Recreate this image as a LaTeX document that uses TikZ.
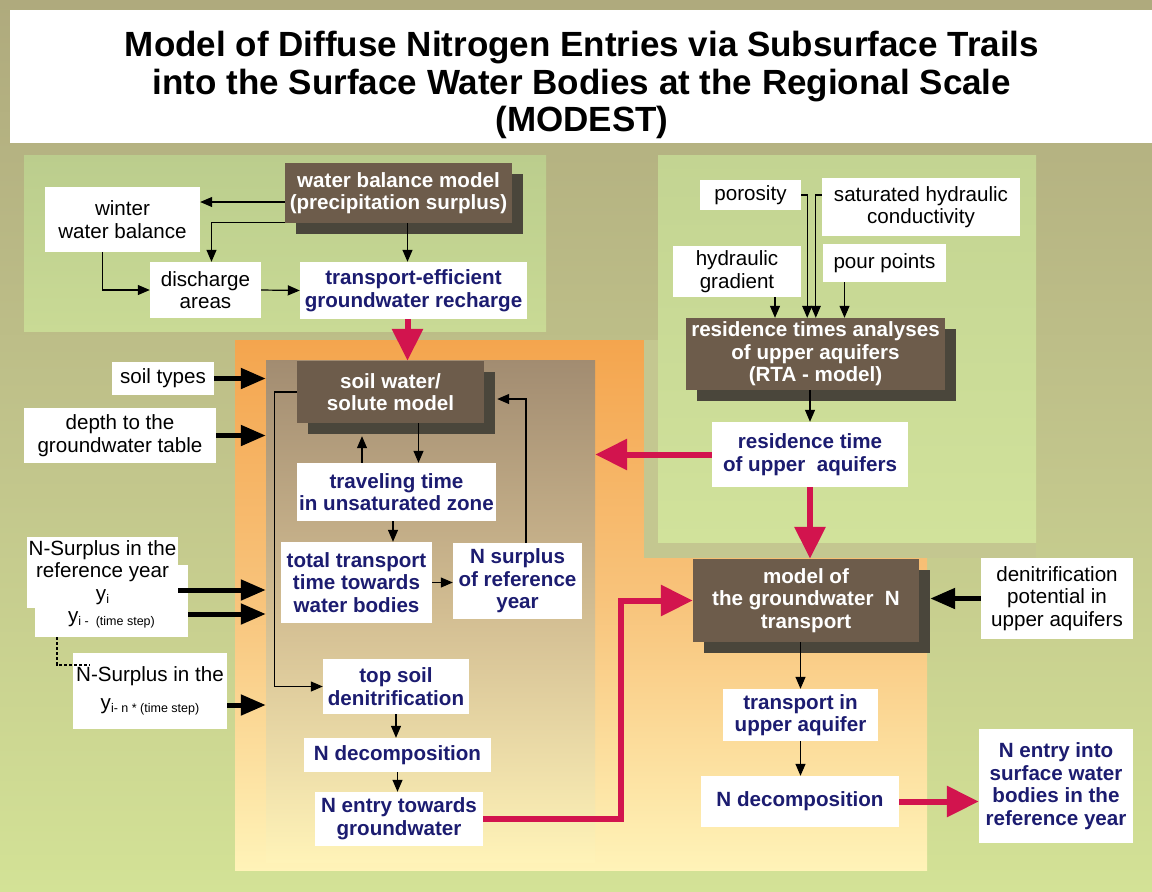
\documentclass[tikz,border=0pt]{standalone}
\usepackage{fontspec}
\setmainfont{Liberation Sans}
\usetikzlibrary{positioning, calc, arrows.meta, shadows}
\definecolor{Olive}{HTML}{AFAA7D}
\definecolor{OliveMid}{HTML}{C1C48B}
\definecolor{Meadow}{HTML}{D3E296}
\definecolor{LeafTop}{HTML}{BBCD8D}
\definecolor{LeafLow}{HTML}{C9DA95}
\definecolor{PaleTop}{HTML}{C3D492}
\definecolor{PaleLow}{HTML}{D1E29B}
\definecolor{Rim}{HTML}{C4C790}
\definecolor{Amber}{HTML}{F4A54E}
\definecolor{AmberMid}{HTML}{F8C47C}
\definecolor{Cream}{HTML}{FFF3B8}
\definecolor{Tan}{HTML}{A28C71}
\definecolor{TanMid}{HTML}{D2BD92}
\definecolor{Umber}{HTML}{6D5C4B}
\definecolor{Slate}{HTML}{4A463B}
\definecolor{Navy}{HTML}{1C1C70}
\definecolor{Crimson}{HTML}{D2144E}
\newcommand{\lbl}{\fontsize{20.6}{22.6}\selectfont}
\newcommand{\lblb}{\bfseries\fontsize{20.6}{22.6}\selectfont}
\newcommand{\lowidx}[1]{\raisebox{-3pt}{\fontsize{12.5}{12.5}\selectfont #1}}
\tikzset{
    wh/.style 2 args={minimum width=#1pt, minimum height=#2pt},
    inbox/.style={rectangle, fill=white, text=black, align=center, inner sep=0pt, font=\lbl},
    outbox/.style={rectangle, fill=white, text=Navy, align=center, inner sep=0pt, font=\lblb},
    modelbox/.style={rectangle, fill=Umber, text=white, align=center, inner sep=0pt, font=\lblb,
        drop shadow={shadow xshift=11pt, shadow yshift=-11pt, fill=Slate, opacity=1}},
    thinarrow/.style={-{Triangle[length=12pt, width=10pt]}, line width=1.2pt, color=black},
    fatarrow/.style={-{Triangle[length=25pt, width=20pt]}, line width=5pt, color=black},
    redarrow/.style={-{Triangle[length=32pt, width=30pt]}, line width=6pt, color=Crimson},
    lagline/.style={densely dashed, line width=2.5pt},
}
\begin{document}
\begin{tikzpicture}[x=1pt, y=-1pt]
    \useasboundingbox (0,0) rectangle (1152,892);
    % backdrop
    \shade[top color=Olive, bottom color=Meadow, middle color=OliveMid] (0,0) rectangle (1152,892);

    % title
    \fill[white] (10,10) rectangle (1152,143);
    \node[font=\bfseries\fontsize{35}{37.5}\selectfont, align=center] (heading) at (582,85)
        {Model of Diffuse Nitrogen Entries via Subsurface Trails\\into the Surface Water Bodies at the Regional Scale\\(MODEST)};

    % coloured panels
    \shade[top color=LeafTop, bottom color=LeafLow] (24,155) rectangle (546,331);
    \shade[top color=Amber, bottom color=Cream, middle color=AmberMid] (235,340) rectangle (927,870);
    \node[top color=Tan, bottom color=Cream, middle color=TanMid, wh={329}{502}, inner sep=0pt] (soilzone) at (430.5,611) {};
    \fill[Rim] (644,340) rectangle (1036,558);
    \shade[top color=PaleTop, bottom color=PaleLow] (658,155) rectangle (1036,542);

    % recharge block
    \node[modelbox, wh={227}{60}] (wbm) at (398.5,193) {water balance model\\(precipitation surplus)};
    \node[inbox, wh={155}{65}] (winter) at (122.5,219.5) {winter\\water balance};
    \node[inbox, wh={111}{56}] (dis) at (205.5,290) {discharge\\areas};
    \node[outbox, wh={227}{57}] (tegr) at (413.5,290.5) {transport-efficient\\groundwater recharge};

    % residence time block
    \node[inbox, wh={101}{30}] (poros) at (750.5,195) {porosity};
    \node[inbox, wh={198}{58}] (satcond) at (921,207) {saturated hydraulic\\conductivity};
    \node[inbox, wh={128}{51}] (hgrad) at (737,271.5) {hydraulic\\gradient};
    \node[inbox, wh={123}{38}] (pour) at (884.5,263) {pour points};
    \node[modelbox, wh={259}{72}] (rta) at (815.5,354) {residence times analyses\\of upper aquifers\\(RTA - model)};
    \node[outbox, wh={196}{65}] (rtime) at (810,454.5) {residence time\\of upper~~aquifers};

    % inputs on the left
    \node[inbox, wh={102}{33}] (soiltypes) at (163,378.5) {soil types};
    \node[inbox, wh={192}{55}] (depth) at (120,435.5) {depth to the\\groundwater table};
    \node[inbox, wh={153}{72}] (nsurB) at (111.5,601) {};
    \node[inbox, wh={151}{71}] (nsurA) at (102.5,572.5) {N-Surplus in the\\reference year\\y\lowidx{i}};
    \node[inbox] (nsurBtext) at (111.5,620) {y\lowidx{i - ~(time step)}};
    \node[inbox, wh={154}{76}] (nsurC) at (150,691) {N-Surplus in the\\[5pt]y\lowidx{i- n * (time step)}};

    % unsaturated zone
    \node[modelbox, wh={187}{62}] (soil) at (390.5,392) {soil water/\\solute model};
    \node[outbox, wh={199}{58}] (travel) at (396.5,492) {traveling time\\in unsaturated zone};
    \node[outbox, wh={151}{81}] (total) at (356.5,582.5) {total transport\\time towards\\water bodies};
    \node[outbox, wh={129}{76}] (nsurref) at (517.5,581) {N surplus\\of reference\\year};
    \node[outbox, wh={146}{55}] (topsoil) at (396,686.5) {top soil\\denitrification};
    \node[outbox, wh={187}{34}] (ndec1) at (397.5,755) {N decomposition};
    \node[outbox, wh={168}{54}] (nentry) at (399,819) {N entry towards\\groundwater};

    % saturated zone
    \node[modelbox, wh={226}{83}] (gwm) at (806,600.5) {model of\\the groundwater~~N\\transport};
    \node[inbox, wh={152}{81}] (denit) at (1057,598.5) {denitrification\\potential in\\upper aquifers};
    \node[outbox, wh={155}{52}] (tua) at (800.5,715) {transport in\\upper aquifer};
    \node[outbox, wh={198}{51}] (ndec2) at (800,801.5) {N decomposition};
    \node[outbox, wh={154}{114}] (nsurf) at (1056,786) {N entry into\\surface water\\bodies in the\\reference year};

    % connectors: recharge
    \draw[thinarrow] ($(wbm.west)+(0,9)$) -- ($(wbm.west -| winter.east)+(0,9)$);
    \draw[thinarrow] ($(wbm.south west)+(0,-1)$) -| ($(dis.north)+(6,0)$);
    \draw[thinarrow] ($(winter.south)+(-20,0)$) |- (dis.west);
    \draw[thinarrow] (dis.east) -- (tegr.west);
    \draw[thinarrow] ($(tegr.north |- wbm.south)+(-6,0)$) -- ($(tegr.north)+(-6,0)$);
    \draw[redarrow] ($(tegr.south)+(-6,0)$) -- ($(tegr.south |- soil.north)+(-6,0)$);

    % connectors: residence time
    \draw[thinarrow] (poros.east) -| ($(poros.east |- rta.north)+(6,0)$);
    \draw[thinarrow] ($(satcond.west)+(0,-12)$) -| ($(satcond.west |- rta.north)+(-6,0)$);
    \draw[thinarrow] ($(hgrad.south)+(38,0)$) -- ($(hgrad.south |- rta.north)+(38,0)$);
    \draw[thinarrow] ($(pour.south)+(-40,0)$) -- ($(pour.south |- rta.north)+(-40,0)$);
    \draw[thinarrow] (rtime.north |- rta.south) -- (rtime.north);
    \draw[redarrow] (rtime.west) -- (rtime.west -| soilzone.east);
    \draw[redarrow] (rtime.south) -- (rtime.south |- gwm.north);

    % connectors: inputs
    \draw[fatarrow] (soiltypes.east) -- (soiltypes.east -| soilzone.west);
    \draw[fatarrow] (depth.east) -- (depth.east -| soilzone.west);
    \draw[fatarrow] ($(nsurA.east)+(0,17.5)$) -- ($(nsurA.east -| soilzone.west)+(0,17.5)$);
    \draw[fatarrow] ($(nsurB.east)+(0,13)$) -- ($(nsurB.east -| soilzone.west)+(0,13)$);
    \draw[fatarrow] ($(nsurC.east)+(0,14)$) -- ($(nsurC.east -| soilzone.west)+(0,14)$);
    \draw[lagline] ($(nsurB.south west)+(22,0)$) |- ($(nsurC.north west)+(17,12)$);

    % connectors: unsaturated zone
    \draw[thinarrow] ($(travel.north |- soil.south)+(22,0)$) -- ($(travel.north)+(22,0)$);
    \draw[thinarrow] ($(travel.north)+(-34.5,0)$) -- ($(travel.north |- soil.south)+(-34.5,13)$);
    \draw[thinarrow] ($(travel.south)+(-3.5,0)$) -- ($(travel.south |- total.north)+(-3.5,0)$);
    \draw[thinarrow] (total.east) -- (total.east -| nsurref.west);
    \draw[thinarrow] ($(nsurref.north)+(8.5,0)$) |- ($(soil.east)+(13,7)$);
    \draw[thinarrow] (soil.west) -- ++(-22,0) |- (topsoil.west);
    \draw[thinarrow] (topsoil.south) -- (topsoil.south |- ndec1.north);
    \draw[thinarrow] (ndec1.south) -- (ndec1.south |- nentry.north);
    \draw[redarrow] (nentry.east) -| ($(gwm.west)+(-72,0)$) -- (gwm.west);

    % connectors: saturated zone
    \draw[fatarrow] (denit.west) -- ($(denit.west -| gwm.east)+(11,0)$);
    \draw[thinarrow] (tua.north |- gwm.south) -- (tua.north);
    \draw[thinarrow] (tua.south) -- (tua.south |- ndec2.north);
    \draw[redarrow] (ndec2.east) -- (ndec2.east -| nsurf.west);
\end{tikzpicture}
\end{document}
